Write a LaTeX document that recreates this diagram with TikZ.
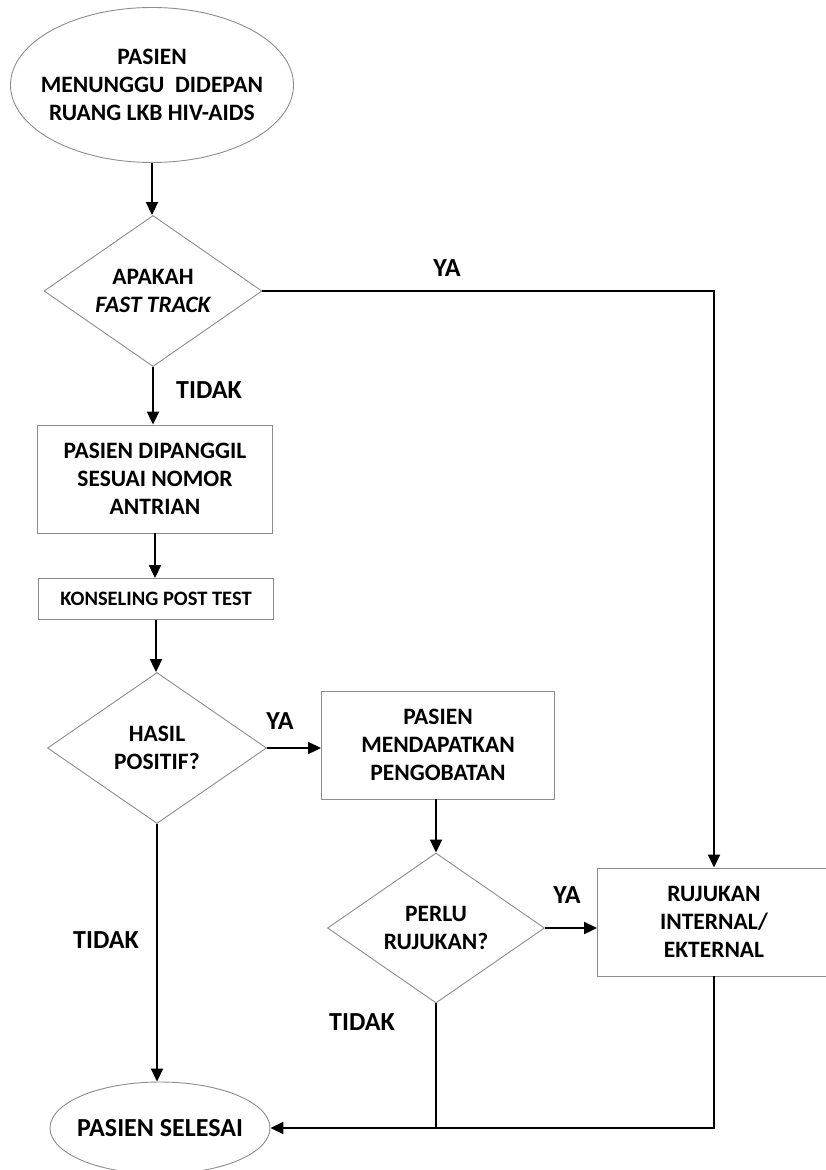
\documentclass[tikz,border=0pt]{standalone}
\usepackage{fontspec}
\setmainfont{Carlito}
\usetikzlibrary{shapes.geometric,arrows.meta}
\begin{document}
\begin{tikzpicture}[x=1pt,y=-1pt,
 txt/.style={font=\bfseries\fontsize{23.5}{28}\selectfont, align=center},
 shp/.style={draw=black!45, line width=0.9pt, txt},
 term/.style={shp, ellipse, inner sep=-30pt},
 proc/.style={shp, rectangle, inner sep=0pt},
 dec/.style={shp, diamond, inner sep=0pt, aspect=1.44},
 conn/.style={line width=2pt, -{Triangle[length=13pt,width=12pt]}},
 plain/.style={line width=2pt},
 lbl/.style={font=\bfseries\fontsize{26}{28}\selectfont}]
\useasboundingbox (0,0) rectangle (826,1170);
\node[term, minimum width=283pt, minimum height=155pt] (start) at (152,85) {PASIEN\\MENUNGGU\ \ DIDEPAN\\RUANG LKB HIV-AIDS};
\node[dec, minimum width=218pt, minimum height=151pt] (ft) at (153,291) {APAKAH\\\itshape FAST TRACK};
\node[proc, minimum width=235pt, minimum height=108pt] (panggil) at (155,479) {PASIEN DIPANGGIL\\SESUAI NOMOR\\ANTRIAN};
\node[proc, minimum width=235pt, minimum height=41pt, font=\bfseries\fontsize{20.5}{24}\selectfont] (kons) at (156,599) {KONSELING POST TEST};
\node[dec, minimum width=219pt, minimum height=151pt] (hasil) at (157,748) {HASIL\\POSITIF?};
\node[proc, minimum width=233pt, minimum height=108pt] (obat) at (438,745) {PASIEN\\MENDAPATKAN\\PENGOBATAN};
\node[dec, minimum width=217pt, minimum height=150pt] (perlu) at (436,928) {PERLU\\RUJUKAN?};
\node[proc, minimum width=233pt, minimum height=108pt] (ruj) at (714,922) {RUJUKAN\\INTERNAL/\\EKTERNAL};
\node[term, minimum width=220pt, minimum height=92pt, font=\bfseries\fontsize{26}{28}\selectfont] (selesai) at (160,1128) {PASIEN SELESAI};

\node[lbl] (ya1) at (447,268) {YA};
\node[lbl] (tidak1) at (209,390) {TIDAK};
\node[lbl] (ya2) at (280,721) {YA};
\node[lbl] (ya3) at (567,895) {YA};
\node[lbl] (tidak2) at (106,940) {TIDAK};
\node[lbl] (tidak3) at (362,1022) {TIDAK};

\draw[conn] (start.south) -- (start.south |- ft.north);
\draw[conn] (ft.east) -| (ruj.north);
\draw[conn] (ft.south) -- (ft.south |- panggil.north);
\draw[conn] (panggil.south) -- (panggil.south |- kons.north);
\draw[conn] (kons.south) -- (kons.south |- hasil.north);
\draw[conn] (hasil.east) -- (obat.west |- hasil.east);
\draw[conn] (obat.south -| perlu.north) -- (perlu.north);
\draw[conn] (perlu.east) -- (ruj.west |- perlu.east);
\draw[conn] (hasil.south) -- (hasil.south |- selesai.north);
\draw[conn] (ruj.south) |- (selesai.east);
\draw[plain] (perlu.south) -- (perlu.south |- selesai.east);
\end{tikzpicture}
\end{document}
